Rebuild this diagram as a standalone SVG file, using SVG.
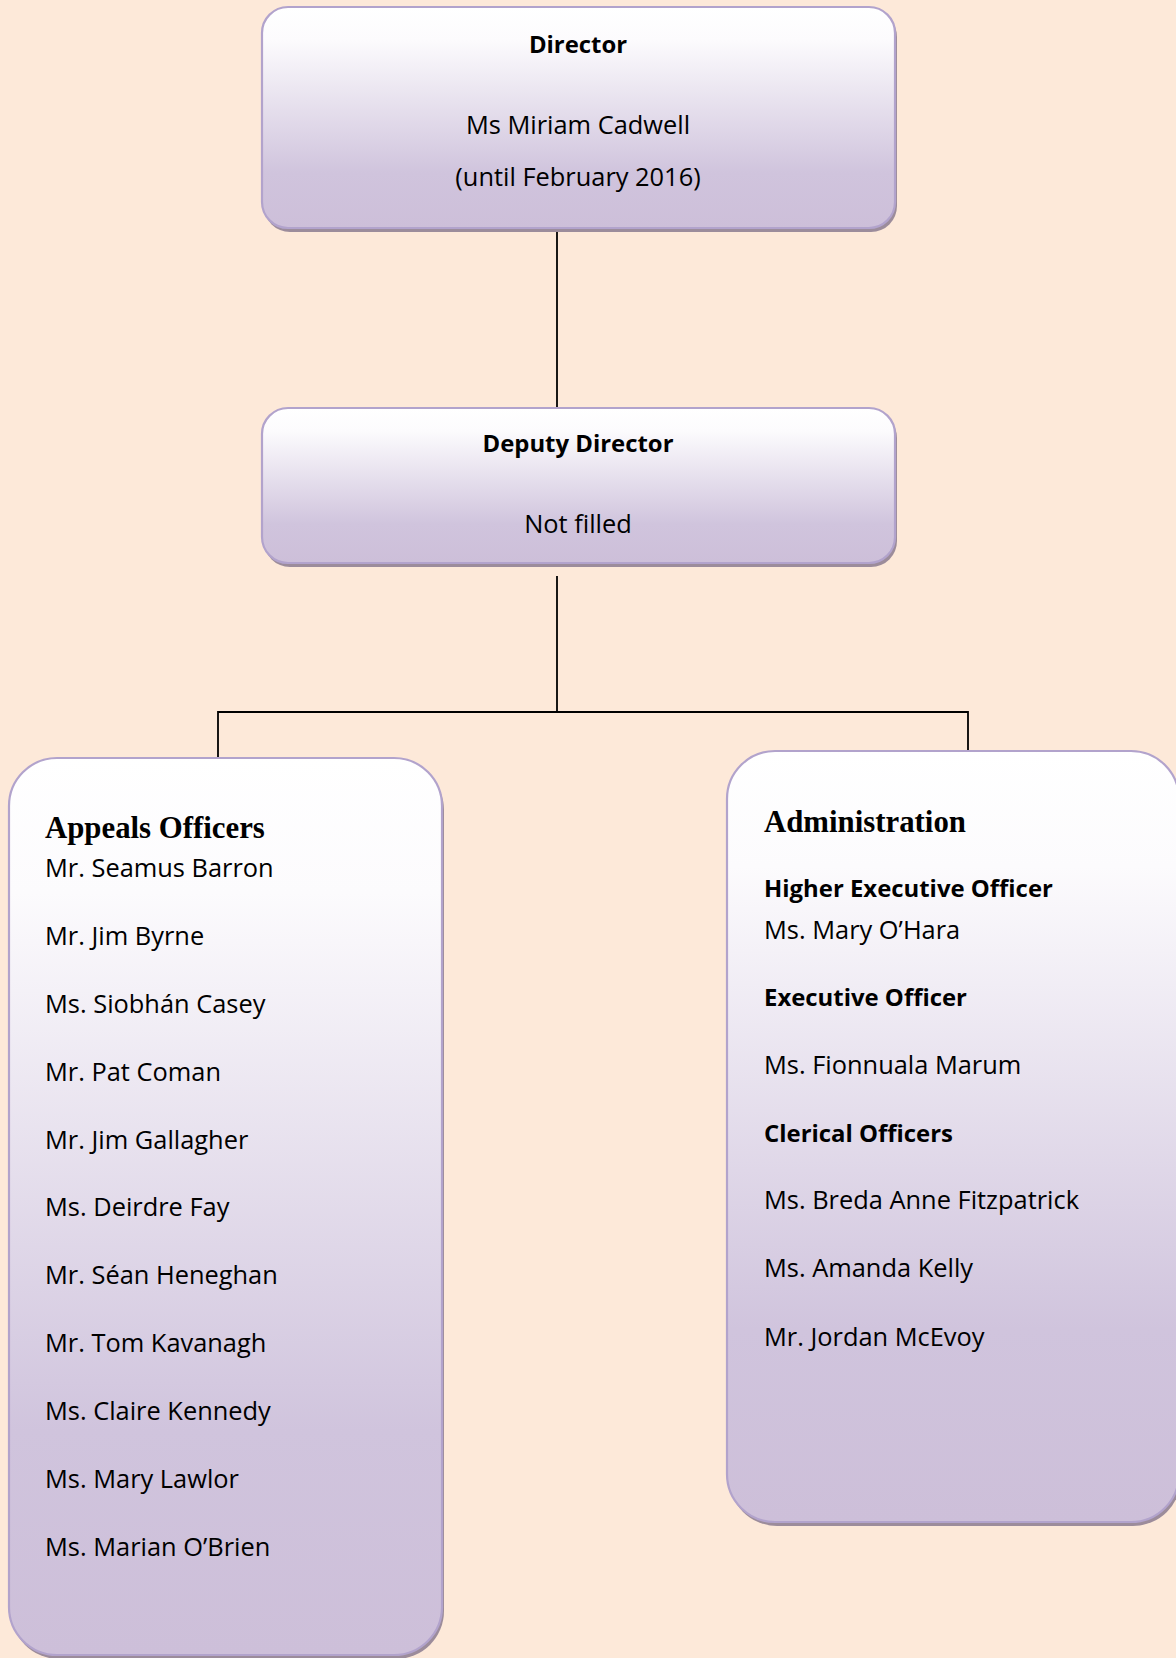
<svg xmlns="http://www.w3.org/2000/svg" width="1176" height="1658" viewBox="0 0 1176 1658">
<defs>
<linearGradient id="g" x1="0" y1="0" x2="0" y2="1">
<stop offset="0" stop-color="#ffffff"/>
<stop offset="0.15" stop-color="#fcfbfd"/>
<stop offset="0.75" stop-color="#d0c4dd"/>
<stop offset="1" stop-color="#cdbfd9"/>
</linearGradient>
<style>
.box{fill:url(#g);stroke:#b2a3cc;stroke-width:2.2}
.sh{fill:#9c8c9b}
.t{font-family:"Open Sans","Noto Sans",sans-serif;font-size:25.4px;fill:#000}
.b{font-family:"Open Sans","Noto Sans",sans-serif;font-size:23.9px;font-weight:bold;fill:#000}
.h{font-family:"Liberation Serif","Times New Roman",serif;font-size:30.8px;font-weight:bold;fill:#000}
.c{text-anchor:middle}
.ln{stroke:#000;stroke-width:1.8;fill:none}
</style>
</defs>
<rect width="1176" height="1658" fill="#fde9d9"/>
<g id="connectors">
<line class="ln" x1="557" y1="228" x2="557" y2="408"/>
<polyline class="ln" points="557,576 557,712"/>
<polyline class="ln" points="218,767 218,712 968,712 968,760"/>
</g>
<g id="director">
<rect class="sh" x="264" y="11" width="633" height="221" rx="26"/>
<rect class="box" x="262" y="7" width="633" height="221" rx="26"/>
<text class="b c" x="578" y="53">Director</text>
<text class="t c" x="578" y="134">Ms Miriam Cadwell</text>
<text class="t c" x="578" y="186">(until February 2016)</text>
</g>
<g id="deputy">
<rect class="sh" x="264" y="412" width="633" height="155" rx="26"/>
<rect class="box" x="262" y="408" width="633" height="155" rx="26"/>
<text class="b c" x="578" y="452">Deputy Director</text>
<text class="t c" x="578" y="533">Not filled</text>
</g>
<g id="appeals">
<rect class="sh" x="11" y="762" width="433" height="897" rx="48"/>
<rect class="box" x="9" y="758" width="433" height="897" rx="48"/>
<text class="h" x="45" y="838">Appeals Officers</text>
<text class="t" x="45" y="877">Mr. Seamus Barron</text>
<text class="t" x="45" y="945">Mr. Jim Byrne</text>
<text class="t" x="45" y="1013">Ms. Siobhán Casey</text>
<text class="t" x="45" y="1081">Mr. Pat Coman</text>
<text class="t" x="45" y="1149">Mr. Jim Gallagher</text>
<text class="t" x="45" y="1216">Ms. Deirdre Fay</text>
<text class="t" x="45" y="1284">Mr. Séan Heneghan</text>
<text class="t" x="45" y="1352">Mr. Tom Kavanagh</text>
<text class="t" x="45" y="1420">Ms. Claire Kennedy</text>
<text class="t" x="45" y="1488">Ms. Mary Lawlor</text>
<text class="t" x="45" y="1556">Ms. Marian O’Brien</text>
</g>
<g id="administration">
<rect class="sh" x="729" y="755" width="452" height="771" rx="48"/>
<rect class="box" x="727" y="751" width="452" height="771" rx="48"/>
<text class="h" x="764" y="832">Administration</text>
<text class="b" x="764" y="897">Higher Executive Officer</text>
<text class="t" x="764" y="939">Ms. Mary O’Hara</text>
<text class="b" x="764" y="1006">Executive Officer</text>
<text class="t" x="764" y="1074">Ms. Fionnuala Marum</text>
<text class="b" x="764" y="1142">Clerical Officers</text>
<text class="t" x="764" y="1209">Ms. Breda Anne Fitzpatrick</text>
<text class="t" x="764" y="1277">Ms. Amanda Kelly</text>
<text class="t" x="764" y="1346">Mr. Jordan McEvoy</text>
</g>
</svg>
